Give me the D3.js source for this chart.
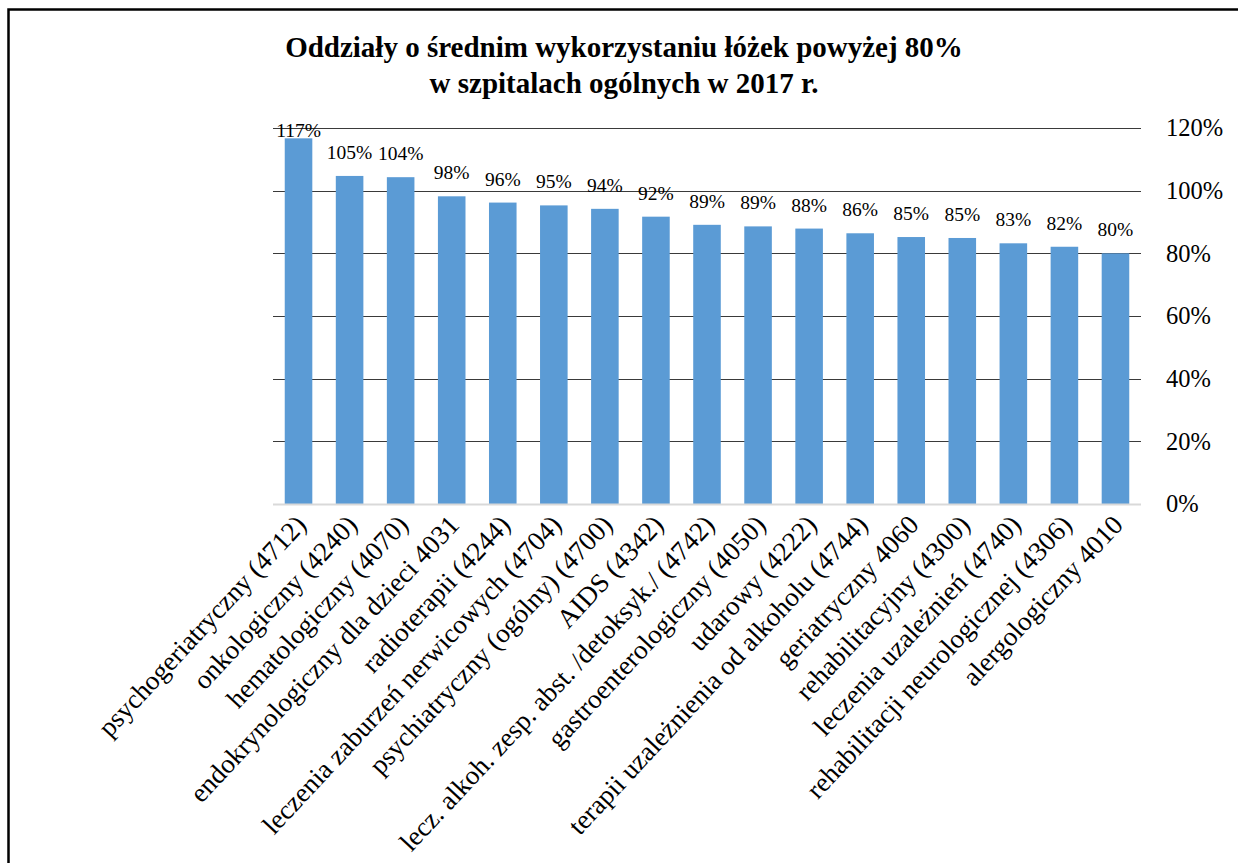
<!DOCTYPE html>
<html>
<head>
<meta charset="utf-8">
<script src="https://cdn.jsdelivr.net/npm/d3@7"></script>
<style>
  html, body { margin: 0; padding: 0; background: #fff; }
  svg { display: block; }
  text { font-family: "Liberation Serif", "Times New Roman", serif; fill: #000; }
</style>
</head>
<body>
<svg id="chart" width="1238" height="863"></svg>
<script>
const categories = [
  "psychogeriatryczny (4712)",
  "onkologiczny (4240)",
  "hematologiczny (4070)",
  "endokrynologiczny dla dzieci 4031",
  "radioterapii (4244)",
  "leczenia zaburzeń nerwicowych (4704)",
  "psychiatryczny (ogólny) (4700)",
  "AIDS (4342)",
  "lecz. alkoh. zesp. abst. /detoksyk./ (4742)",
  "gastroenterologiczny (4050)",
  "udarowy (4222)",
  "terapii uzależnienia od alkoholu (4744)",
  "geriatryczny 4060",
  "rehabilitacyjny (4300)",
  "leczenia uzależnień (4740)",
  "rehabilitacji neurologicznej (4306)",
  "alergologiczny 4010"
];
const values = [116.7, 104.7, 104.3, 98.2, 96.2, 95.3, 94.2, 91.7, 89.1, 88.6, 87.9, 86.4, 85.2, 84.9, 83.2, 82.1, 80.0];
const dataLabels = ["117%", "105%", "104%", "98%", "96%", "95%", "94%", "92%", "89%", "89%", "88%", "86%", "85%", "85%", "83%", "82%", "80%"];
const yTicks = [0, 20, 40, 60, 80, 100, 120];
const titleLines = ["Oddziały o średnim wykorzystaniu łóżek powyżej 80%", "w szpitalach ogólnych w 2017 r."];

const svg = d3.select("#chart");

// outer frame
svg.append("rect")
  .attr("x", 8.5).attr("y", 9.5)
  .attr("width", 1300).attr("height", 1000)
  .attr("fill", "none").attr("stroke", "#000").attr("stroke-width", 2.5);

const plot = { left: 273, right: 1141, top: 128, bottom: 504 };

const x = d3.scaleBand()
  .domain(categories)
  .range([plot.left, plot.right])
  .paddingInner(0.46)
  .paddingOuter(0.23);

const y = d3.scaleLinear()
  .domain([0, 120])
  .range([plot.bottom, plot.top]);

// gridlines
svg.append("g")
  .selectAll("line")
  .data(yTicks.filter(d => d > 0))
  .join("line")
  .attr("x1", plot.left).attr("x2", plot.right)
  .attr("y1", d => Math.round(y(d)) + 0.5).attr("y2", d => Math.round(y(d)) + 0.5)
  .attr("stroke", "#3a3a3a").attr("stroke-width", 1.2);

// bars
svg.append("g")
  .selectAll("rect")
  .data(values)
  .join("rect")
  .attr("x", (d, i) => x(categories[i]))
  .attr("width", x.bandwidth())
  .attr("y", d => y(d))
  .attr("height", d => y(0) - y(d))
  .attr("fill", "#5b9bd5");

// baseline
svg.append("line")
  .attr("x1", plot.left).attr("x2", plot.right)
  .attr("y1", y(0) + 0.5).attr("y2", y(0) + 0.5)
  .attr("stroke", "#d9d9d9").attr("stroke-width", 2);

// right axis labels
const yAxis = d3.axisRight(y)
  .tickValues(yTicks)
  .tickSize(0)
  .tickPadding(0)
  .tickFormat(d => d + "%");
const ya = svg.append("g")
  .attr("transform", `translate(${plot.right + 25},0)`)
  .call(yAxis);
ya.attr("font-family", null).attr("font-size", null);
ya.select(".domain").remove();
ya.selectAll("text")
  .style("font-family", '"Liberation Serif", "Times New Roman", serif')
  .style("font-size", "24.5px")
  .attr("fill", "#000")
  .attr("dy", "0.32em");

// data labels
svg.append("g")
  .selectAll("text")
  .data(values)
  .join("text")
  .attr("x", (d, i) => x(categories[i]) + x.bandwidth() / 2)
  .attr("y", d => Math.max(y(d) - 17, 137))
  .attr("text-anchor", "middle")
  .style("font-size", "19.5px")
  .text((d, i) => dataLabels[i]);

// category labels
svg.append("g")
  .selectAll("text")
  .data(categories)
  .join("text")
  .attr("transform", d => `translate(${x(d) + x.bandwidth() / 2 + 9},${plot.bottom + 22}) rotate(-47)`)
  .attr("text-anchor", "end")
  .style("font-size", "27px")
  .text(d => d);

// title
svg.append("g")
  .selectAll("text")
  .data(titleLines)
  .join("text")
  .attr("x", 624)
  .attr("y", (d, i) => 57 + i * 36)
  .attr("text-anchor", "middle")
  .style("font-size", "29px")
  .style("font-weight", "bold")
  .text(d => d);
</script>
</body>
</html>
